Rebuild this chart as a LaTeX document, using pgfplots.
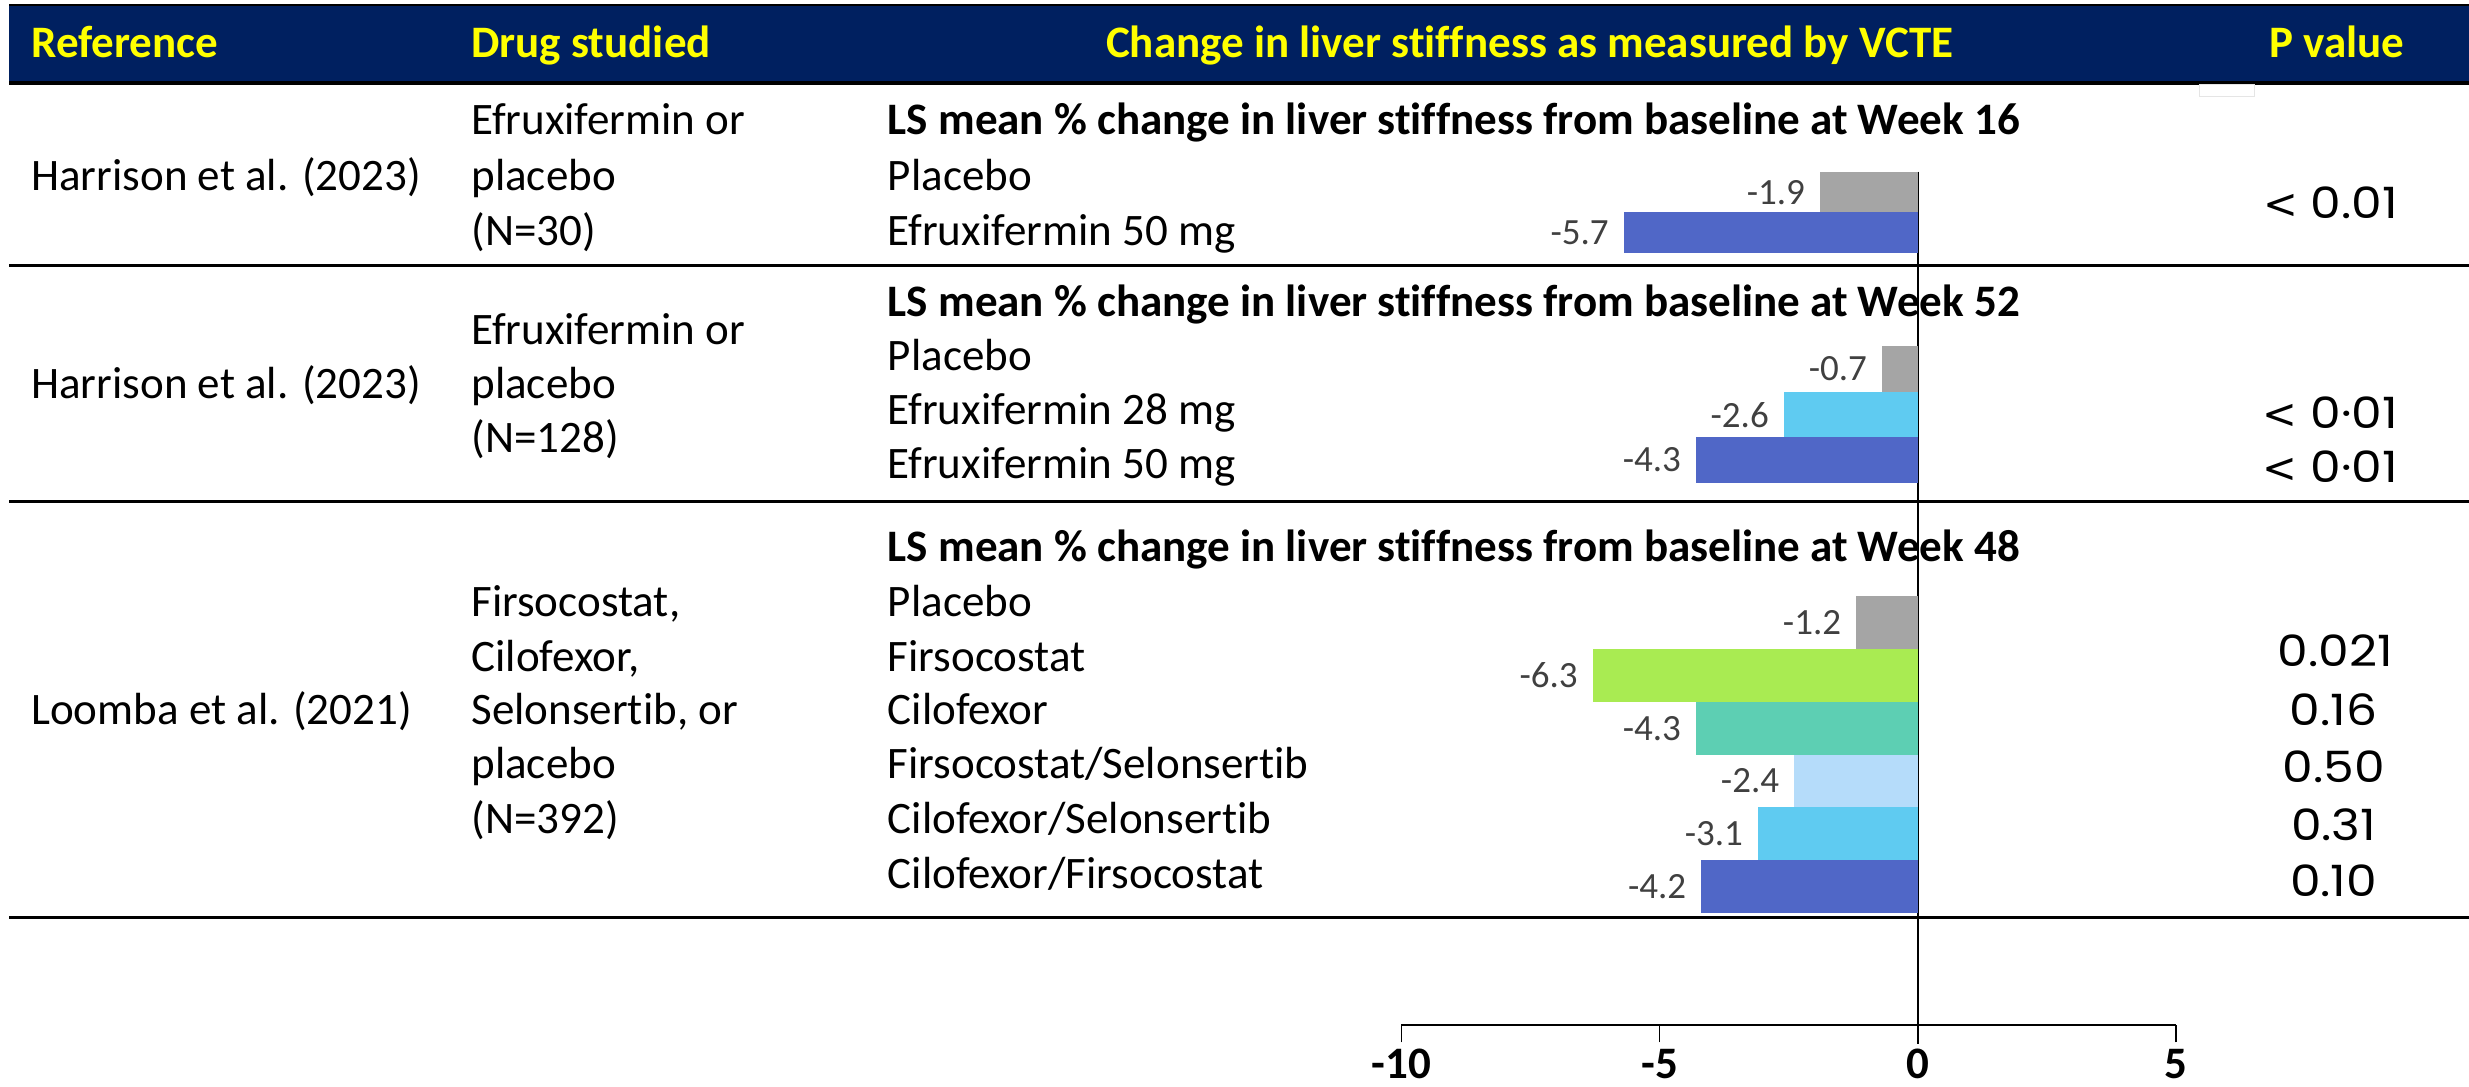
\documentclass[border=0pt]{standalone}
\usepackage{fontspec}
\setmainfont{Carlito}[Ligatures=NoCommon]
\newfontfamily\pfont{Poppins}[FakeStretch=1.13]
\newfontfamily\ltfont{DejaVu Sans}
\usepackage{pgfplots}
\pgfplotsset{compat=1.18}
\definecolor{navy}{HTML}{002060}
\definecolor{hdr}{HTML}{FFFF00}
\definecolor{cgray}{HTML}{A5A5A5}
\definecolor{cblue}{HTML}{5067C7}
\definecolor{ccyan}{HTML}{5FCBF1}
\definecolor{cgreen}{HTML}{A9EB52}
\definecolor{cteal}{HTML}{5DCFB3}
\definecolor{clight}{HTML}{B5DCFA}
\definecolor{lbl}{HTML}{404040}
\newcommand{\bodyf}{\fontsize{14.3pt}{17pt}\selectfont}
\newcommand{\lblf}{\fontsize{11.75pt}{14pt}\selectfont}
\newcommand{\pvf}{\pfont\fontsize{13.7pt}{16pt}\selectfont}
\newcommand{\lt}{{\ltfont\fontsize{13.2pt}{16pt}\selectfont <}}
\begin{document}
\begin{tikzpicture}
\useasboundingbox (0,0) rectangle (784pt,-345pt);
\begin{scope}[x=0.5pt,y=-0.5pt]
  % header band
  \fill[navy] (6,3.2) rectangle (1568,52.9);
  \draw[line width=0.8pt] (6,3.2)--(1568,3.2);
  \draw[line width=1.2pt] (6,52.9)--(1568,52.9);
  \draw[black!10, line width=0.3pt] (1397,53.5) rectangle (1432,61);
  % separators
  \draw[line width=0.9pt] (6,168.7)--(1568,168.7);
  \draw[line width=0.9pt] (6,318.6)--(1568,318.6);
  \draw[line width=0.9pt] (6,582.6)--(1568,582.6);
  % header text
  \begin{scope}[every node/.style={inner sep=0pt, font=\bodyf\bfseries, text=hdr}]
    \node[anchor=base west] at (19.5,36.4) {Reference};
    \node[anchor=base west] at (299,36.4) {Drug studied};
    \node[anchor=base] at (971.5,36.4) {Change in liver stiffness as measured by VCTE};
    \node[anchor=base] at (1484,36.4) {P value};
  \end{scope}
  \begin{scope}[every node/.style={inner sep=0pt, font=\bodyf, anchor=base west}]
    % row 1
    \node at (19.5,120.7) {Harrison et al. (2023)};
    \node at (299,85.7) {Efruxifermin or};
    \node at (299,120.7) {placebo};
    \node at (299,155.6) {(N=30)};
    \node[font=\bodyf\bfseries] at (563.5,85.7) {LS mean \% change in liver stiffness from baseline at Week 16};
    \node at (563.5,120.7) {Placebo};
    \node at (563.5,155.6) {Efruxifermin 50 mg};
    % row 2
    \node at (19.5,253) {Harrison et al. (2023)};
    \node at (299,219.1) {Efruxifermin or};
    \node at (299,253) {placebo};
    \node at (299,287.5) {(N=128)};
    \node[font=\bodyf\bfseries] at (563.5,201.1) {LS mean \% change in liver stiffness from baseline at Week 52};
    \node at (563.5,235.4) {Placebo};
    \node at (563.5,269.9) {Efruxifermin 28 mg};
    \node at (563.5,303.8) {Efruxifermin 50 mg};
    % row 3
    \node at (19.5,460.4) {Loomba et al. (2021)};
    \node at (299,391.6) {Firsocostat,};
    \node at (299,426.6) {Cilofexor,};
    \node at (299,460.4) {Selonsertib, or};
    \node at (299,494.3) {placebo};
    \node at (299,529.2) {(N=392)};
    \node[font=\bodyf\bfseries] at (563.5,356.7) {LS mean \% change in liver stiffness from baseline at Week 48};
    \node at (563.5,391.6) {Placebo};
    \node at (563.5,426.6) {Firsocostat};
    \node at (563.5,460.4) {Cilofexor};
    \node at (563.5,494.3) {Firsocostat/Selonsertib};
    \node at (563.5,529.2) {Cilofexor/Selonsertib};
    \node at (563.5,564.2) {Cilofexor/Firsocostat};
  \end{scope}
  \begin{scope}[every node/.style={inner sep=0pt, font=\pvf, anchor=base}]
    \node at (1480,139) {\lt{} 0.01};
    \node at (1480,272.4) {\lt{} 0·01};
    \node at (1480,306.2) {\lt{} 0·01};
    \node at (1483,423.2) {0.021};
    \node at (1482,460.6) {0.16};
    \node at (1482,497.1) {0.50};
    \node at (1482,533.6) {0.31};
    \node at (1482,569.2) {0.10};
  \end{scope}
\end{scope}
\begin{axis}[
  at={(445pt,-325.5pt)}, anchor=south west,
  scale only axis, width=246pt, height=271pt,
  xmin=-10, xmax=5, ymin=-651, ymax=-109,
  axis x line*=bottom, axis y line=none,
  x axis line style={line width=0.65pt},
  xtick={-10,-5,0,5}, xticklabels={-10,-5,0,5},
  ytick=\empty,
  tick align=outside, major tick length=5.5pt,
  every tick/.style={black, line width=0.5pt},
  xticklabel style={font=\bodyf\bfseries, inner sep=0pt, anchor=base, yshift=-11.6pt},
  clip=false,
  xbar, bar shift=0pt,
  nodes near coords, point meta=explicit symbolic,
  every node near coord/.style={anchor=east, inner sep=0pt, xshift=-4.5pt, font=\lblf, text=lbl},
]
\draw[line width=0.6pt] (axis cs:0,-109) -- (axis cs:0,-663);
% Row 1 (Week 16)
\addplot[fill=cgray, draw=none, bar width=25.7] coordinates {(-1.9,-122.05) [-1.9]};
\addplot[fill=cblue, draw=none, bar width=25.6] coordinates {(-5.7,-147.7) [-5.7]};
% Row 2 (Week 52)
\addplot[fill=cgray, draw=none, bar width=29.3] coordinates {(-0.7,-234.35) [-0.7]};
\addplot[fill=ccyan, draw=none, bar width=28.7] coordinates {(-2.6,-263.35) [-2.6]};
\addplot[fill=cblue, draw=none, bar width=28.8] coordinates {(-4.3,-292.1) [-4.3]};
% Row 3 (Week 48)
\addplot[fill=cgray, draw=none, bar width=33.5] coordinates {(-1.2,-395.25) [-1.2]};
\addplot[fill=cgreen, draw=none, bar width=33.6] coordinates {(-6.3,-428.8) [-6.3]};
\addplot[fill=cteal, draw=none, bar width=33.7] coordinates {(-4.3,-462.45) [-4.3]};
\addplot[fill=clight, draw=none, bar width=33.2] coordinates {(-2.4,-495.9) [-2.4]};
\addplot[fill=ccyan, draw=none, bar width=33.9] coordinates {(-3.1,-529.45) [-3.1]};
\addplot[fill=cblue, draw=none, bar width=33.2] coordinates {(-4.2,-563) [-4.2]};
\end{axis}
\end{tikzpicture}
\end{document}
